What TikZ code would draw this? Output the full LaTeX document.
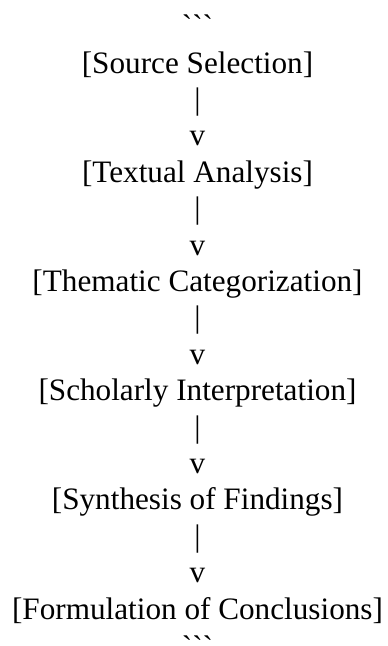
\documentclass[tikz,border=0pt]{standalone}
\usepackage{fontspec}
\newfontfamily\tnr{Liberation Serif}
\begin{document}
\begin{tikzpicture}[x=1pt,y=1pt,
  txt/.style={anchor=base,inner sep=0pt,outer sep=0pt,font=\tnr\fontsize{31.2}{36}\selectfont}]
\useasboundingbox (0,0) rectangle (388,-646);
\def\cx{197.5}
\node[txt] (f1) at (\cx,-36.6) {```};
\node[txt] (n1) at (\cx,-73) {[Source Selection]};
\node[txt] (b1) at (\cx,-109.4) {|};
\node[txt] (v1) at (\cx,-145.8) {v};
\node[txt] (n2) at (\cx,-182.2) {[Textual Analysis]};
\node[txt] (b2) at (\cx,-218.6) {|};
\node[txt] (v2) at (\cx,-255) {v};
\node[txt] (n3) at (\cx,-291.4) {[Thematic Categorization]};
\node[txt] (b3) at (\cx,-327.8) {|};
\node[txt] (v3) at (\cx,-364.2) {v};
\node[txt] (n4) at (\cx,-400.6) {[Scholarly Interpretation]};
\node[txt] (b4) at (\cx,-437) {|};
\node[txt] (v4) at (\cx,-473.4) {v};
\node[txt] (n5) at (\cx,-509.8) {[Synthesis of Findings]};
\node[txt] (b5) at (\cx,-546.2) {|};
\node[txt] (v5) at (\cx,-582.6) {v};
\node[txt] (n6) at (\cx,-619) {[Formulation of Conclusions]};
\node[txt] (f2) at (\cx,-657) {```};
\end{tikzpicture}
\end{document}
